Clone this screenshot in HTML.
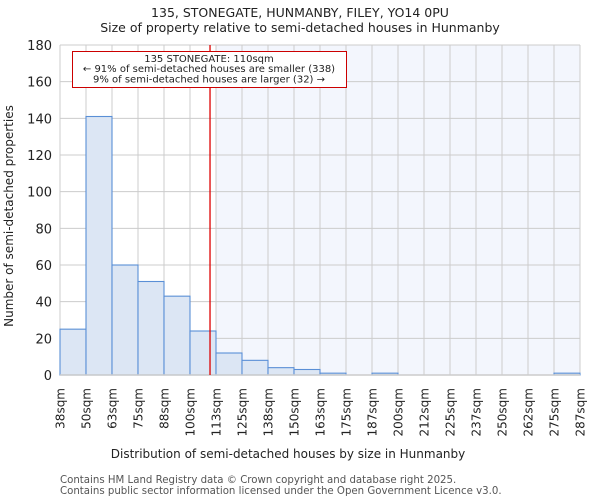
<!DOCTYPE html>
<html><head><meta charset="utf-8"><style>
body{margin:0;background:#fff}
svg{display:block;font-family:"DejaVu Sans","Liberation Sans",sans-serif}
</style></head><body>
<svg id="c" width="600" height="500" viewBox="0 0 600 500">
<text x="300" y="17" text-anchor="middle" font-size="12.5" fill="#222">135, STONEGATE, HUNMANBY, FILEY, YO14 0PU</text>
<text x="300" y="32" text-anchor="middle" font-size="12.5" fill="#222">Size of property relative to semi-detached houses in Hunmanby</text>
<g id="plot"></g>
<text x="288" y="458" text-anchor="middle" font-size="12" fill="#222">Distribution of semi-detached houses by size in Hunmanby</text>
<text transform="translate(13,216) rotate(-90)" text-anchor="middle" font-size="12" fill="#222">Number of semi-detached properties</text>
<text x="60" y="483" font-size="10.2" fill="#555">Contains HM Land Registry data © Crown copyright and database right 2025.</text>
<text x="60" y="494" font-size="10.2" fill="#555">Contains public sector information licensed under the Open Government Licence v3.0.</text>
</svg>
<script>
const tickLabels=["38sqm","50sqm","63sqm","75sqm","88sqm","100sqm","113sqm","125sqm","138sqm","150sqm","163sqm","175sqm","187sqm","200sqm","212sqm","225sqm","237sqm","250sqm","262sqm","275sqm","287sqm"];
const counts=[25,141,60,51,43,24,12,8,4,3,1,0,1,0,0,0,0,0,0,1];
const yTicks=[0,20,40,60,80,100,120,140,160,180];
const markerBin=5.77;
const highlightStartBin=6;
const L=60,R=580,T=45,B=375,yMax=180;
const bw=(R-L)/counts.length;
const xs=i=>L+i*bw;
const ys=v=>B-(v/yMax)*(B-T);
const NS="http://www.w3.org/2000/svg";
const g=document.getElementById('plot');
function mk(t,a){const e=document.createElementNS(NS,t);for(const k in a)e.setAttribute(k,a[k]);g.appendChild(e);return e;}
let e=mk('rect',{x:xs(highlightStartBin),y:T,width:R-xs(highlightStartBin),height:B-T,fill:'#f3f6fd'});


yTicks.forEach(v=>{
 let l=mk('line',{x1:L,x2:R,y1:ys(v),y2:ys(v),stroke:'#ccc','stroke-width':1});
 
 
 let t=mk('text',{x:L-8,y:ys(v)+5,'text-anchor':'end','font-size':13,fill:'#222'});
 t.textContent=v;
 
 
});
tickLabels.forEach((s,i)=>{
 let l=mk('line',{x1:xs(i),x2:xs(i),y1:T,y2:B,stroke:'#ccc','stroke-width':1});
 
 
 let t=mk('text',{transform:`translate(${xs(i)+4.5},388) rotate(-90)`,'text-anchor':'end','font-size':12,fill:'#222'});
 t.textContent=s;
 
 
});
counts.forEach((v,i)=>{
 if(v<=0)return;
 let r=mk('rect',{x:xs(i),y:ys(v),width:bw,height:B-ys(v),fill:'#dce6f4',stroke:'#5a8fd6','stroke-width':1.1});
 
 
});
let ax=mk('line',{x1:L,x2:R,y1:B,y2:B,stroke:'#ccc','stroke-width':1.5});


let mx=xs(markerBin);
let ml=mk('line',{x1:mx,x2:mx,y1:T,y2:B,stroke:'#d00','stroke-width':1.3});


let box=mk('rect',{x:72.5,y:51.5,width:274,height:36,fill:'#fff',stroke:'#c00','stroke-width':1});


["135 STONEGATE: 110sqm","← 91% of semi-detached houses are smaller (338)","9% of semi-detached houses are larger (32) →"].forEach((s,i)=>{
 let t=mk('text',{x:209,y:62+i*10.2,'text-anchor':'middle','font-size':10,fill:'#222'});
 t.textContent=s;
 
 
});
</script>
</body></html>
